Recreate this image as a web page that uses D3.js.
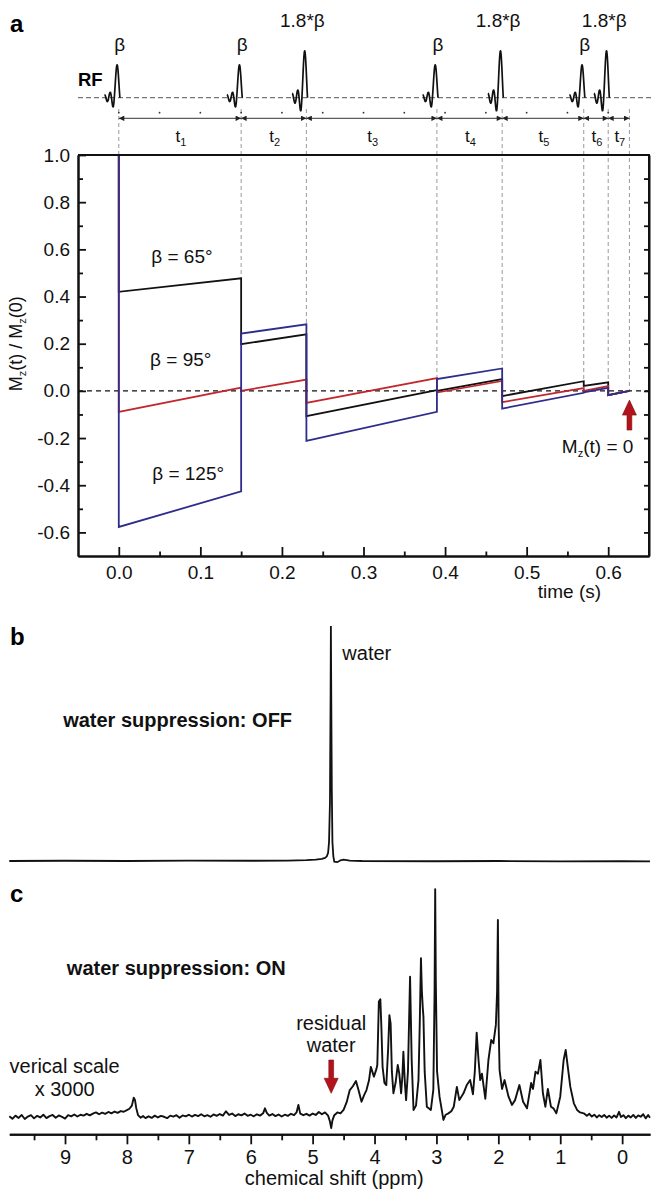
<!DOCTYPE html>
<html>
<head>
<meta charset="utf-8">
<script src="https://cdn.jsdelivr.net/npm/d3@7"></script>
<style>
  body { margin: 0; background: #fff; }
  svg { display: block; font-family: "Liberation Sans", Arial, sans-serif; }
</style>
</head>
<body>
<svg id="chart"></svg>
<script>
"use strict";

// ---- panel a: pulse sequence ----
const pulseTimes = [0, 0.15, 0.23, 0.39, 0.47, 0.57, 0.6];
const pulseLabels = ["β", "β", "1.8*β", "β", "1.8*β", "β", "1.8*β"];
const endTime = 0.626;
const delayLabels = ["1", "2", "3", "4", "5", "6", "7"];
const dotTimes = [0, 0.05, 0.1, 0.15, 0.2, 0.25, 0.3, 0.35, 0.4, 0.45, 0.5, 0.55, 0.6];

// Mz(t)/Mz(0) just before each pulse (last = end value) and just after it
const before65 = [1.0, 0.477, 0.24, 0.003, 0.05, 0.041, 0.036, 0.0];
const after65 = [0.42, 0.198, -0.107, 0.0, -0.022, 0.021, -0.018];
const before95 = [1.0, 0.014, 0.048, 0.054, 0.042, 0.012, 0.02, 0.0];
const after95 = [-0.089, 0.0, -0.051, -0.007, -0.048, 0.0, -0.018];
const before125 = [1.0, -0.426, 0.282, -0.089, 0.095, -0.008, 0.013, 0.0];
const after125 = [-0.577, 0.243, -0.212, 0.05, -0.075, -0.006, -0.018];

const timeTicks = [0, 0.1, 0.2, 0.3, 0.4, 0.5, 0.6];
const timeMinor = [0.05, 0.15, 0.25, 0.35, 0.45, 0.55];
const mzTicks = [-0.6, -0.4, -0.2, 0, 0.2, 0.4, 0.6, 0.8, 1.0];
const mzMinor = [-0.5, -0.3, -0.1, 0.1, 0.3, 0.5, 0.7, 0.9];
const mzRight = [-0.6, -0.5, -0.4, -0.3, -0.2, -0.1, 0, 0.1, 0.2, 0.3, 0.4, 0.5, 0.6, 0.7, 0.8, 0.9];

// ---- panels b and c: spectra [ppm, intensity] ----
const spectrumOff = [
  [9.9, 0.0], [9.0, 0.1], [8.0, 0.0], [7.0, 0.2], [6.0, 0.1], [5.4, 0.2], [5.1, 0.4],
  [4.95, 0.6], [4.85, 0.9], [4.8, 1.3], [4.77, 2.0], [4.75, 3.5], [4.735, 8], [4.72, 25],
  [4.71, 70], [4.705, 100], [4.7, 75], [4.69, 30], [4.68, 8], [4.665, 2], [4.65, -0.3],
  [4.6, -0.5], [4.55, 0.3], [4.5, 0.6], [4.4, 0.2], [4.2, 0.0], [3.0, -0.1], [2.0, 0.0],
  [1.0, -0.2], [0, -0.1], [-0.45, -0.2]
];

const spectrumOn = [
  [9.9, 0.3], [9.85, -0.8], [9.8, 0.6], [9.75, -0.4], [9.7, 0.9], [9.65, -0.9], [9.6, 0.2],
  [9.55, 0.8], [9.5, -0.6], [9.45, 0.5], [9.4, -0.2], [9.35, 1.0], [9.3, -0.5], [9.25, 0.4],
  [9.2, 0.9], [9.15, -0.3], [9.1, 0.7], [9.05, 0.1], [9.0, -0.7], [8.95, 0.8], [8.9, 0.3],
  [8.85, 1.1], [8.8, 0.2], [8.75, 1.0], [8.7, 0.6], [8.65, 1.4], [8.6, 0.7], [8.55, 1.5],
  [8.5, 2.0], [8.45, 1.2], [8.4, 1.9], [8.35, 1.4], [8.3, 2.2], [8.25, 1.6], [8.2, 2.4],
  [8.15, 1.8], [8.1, 2.6], [8.05, 2.3], [8.0, 3.0], [7.96, 3.6], [7.92, 5.0], [7.89, 8.5],
  [7.87, 7.5], [7.85, 4.0], [7.82, 0.8], [7.78, -0.3], [7.74, 0.4], [7.7, -0.5], [7.65, 0.3],
  [7.6, -0.4], [7.55, 0.6], [7.5, -0.2], [7.45, 0.5], [7.4, 0.1], [7.35, -0.5], [7.3, 0.6],
  [7.25, 0.2], [7.2, 0.8], [7.15, -0.3], [7.1, 0.7], [7.05, 0.3], [7.0, 1.0], [6.95, 0.2],
  [6.9, 0.9], [6.85, 0.4], [6.8, 1.2], [6.75, 0.3], [6.7, 0.8], [6.65, 0.1], [6.6, 1.1],
  [6.55, 0.5], [6.5, 1.3], [6.45, 0.6], [6.4, 2.5], [6.35, 0.9], [6.3, 1.5], [6.25, 0.4],
  [6.2, 1.2], [6.15, 0.7], [6.1, 1.5], [6.05, 0.5], [6.0, 1.0], [5.95, 0.3], [5.9, 1.2],
  [5.85, 0.6], [5.8, 1.6], [5.77, 3.8], [5.74, 1.8], [5.7, 0.6], [5.65, 1.3], [5.6, 0.4],
  [5.55, 1.1], [5.5, 0.2], [5.45, 1.0], [5.4, 0.5], [5.35, 1.4], [5.3, 0.8], [5.26, 2.0],
  [5.23, 5.3], [5.2, 1.5], [5.15, 0.8], [5.1, 1.4], [5.05, 0.6], [5.0, 1.5], [4.95, 0.9],
  [4.9, 2.2], [4.85, 1.2], [4.8, 2.0], [4.75, 0.6], [4.72, -2.0], [4.7, -4.9], [4.68, -1.5],
  [4.65, 0.8], [4.6, 2.0], [4.55, 1.6], [4.5, 3.1], [4.45, 6.5], [4.4, 11.8], [4.35, 13.5],
  [4.3, 15.8], [4.26, 12.0], [4.21, 6.7], [4.17, 9.5], [4.13, 11.8], [4.09, 16.0], [4.06, 22.0],
  [4.01, 17.7], [3.97, 21.0], [3.955, 22.8], [3.93, 50.6], [3.906, 51.6], [3.89, 40.0],
  [3.87, 22.0], [3.84, 15.0], [3.81, 14.0], [3.78, 30.0], [3.76, 44.7], [3.74, 41.0],
  [3.72, 20.0], [3.695, 10.4], [3.66, 15.0], [3.625, 22.8], [3.6, 19.0], [3.57, 10.4],
  [3.55, 18.0], [3.534, 28.6], [3.51, 15.0], [3.49, 7.4], [3.46, 20.0], [3.426, 61.5],
  [3.4, 25.0], [3.37, 3.1], [3.33, 5.0], [3.29, 16.2], [3.27, 40.0], [3.25, 69.6],
  [3.235, 55.0], [3.22, 47.7], [3.21, 44.0], [3.19, 20.0], [3.155, 4.5], [3.09, 3.1],
  [3.05, 12.0], [3.03, 55.0], [3.02, 99.9], [3.01, 60.0], [2.99, 20.0], [2.95, 8.9],
  [2.887, -1.3], [2.85, 1.0], [2.807, 1.6], [2.76, 2.5], [2.72, 4.5], [2.67, 13.2],
  [2.63, 7.4], [2.563, 10.4], [2.51, 14.0], [2.455, 16.2], [2.41, 10.0], [2.38, 20.0],
  [2.35, 37.0], [2.32, 25.0], [2.293, 16.2], [2.265, 19.0], [2.21, 8.0], [2.16, 25.0],
  [2.115, 33.8], [2.08, 32.3], [2.04, 40.4], [2.02, 55.0], [2.007, 86.4], [1.995, 40.0],
  [1.98, 20.6], [1.94, 12.3], [1.9, 16.2], [1.835, 8.9], [1.78, 5.3], [1.73, 7.4],
  [1.66, 14.0], [1.6, 6.7], [1.537, 3.8], [1.47, 14.9], [1.44, 12.3], [1.4, 19.9],
  [1.36, 19.0], [1.32, 25.0], [1.28, 10.4], [1.24, 4.5], [1.2, 12.3], [1.15, 4.5],
  [1.11, 3.8], [1.063, 1.6], [1.0, 8.9], [0.945, 25.0], [0.912, 29.4], [0.875, 21.3],
  [0.837, 13.2], [0.78, 6.0], [0.728, 3.1], [0.68, 2.0], [0.62, 1.6], [0.57, 0.5],
  [0.53, 1.4], [0.49, 0.2], [0.45, 1.0], [0.41, -0.2], [0.37, 0.8], [0.33, 0.0], [0.29, 0.9],
  [0.25, -0.3], [0.21, 0.6], [0.17, -0.4], [0.13, 0.7], [0.09, -0.2], [0.05, 2.3], [0.02, 0.0],
  [-0.02, 0.8], [-0.06, -0.5], [-0.1, 0.6], [-0.14, -0.2], [-0.18, 0.9], [-0.22, -0.4],
  [-0.26, 0.7], [-0.3, 0.1], [-0.34, 1.2], [-0.38, -0.6], [-0.42, 0.9], [-0.45, -0.3]
];

const ppmTicks = [9, 8, 7, 6, 5, 4, 3, 2, 1, 0];
const ppmMinor = [9.5, 8.5, 7.5, 6.5, 5.5, 4.5, 3.5, 2.5, 1.5, 0.5];

// ---- layout ----
const width = 652;
const height = 1190;
const font = 19;
const ink = "#111";
const colors = ["#111", "#c1272d", "#2e2d8c"];
const arrowRed = "#b3141c";

const svg = d3.select("#chart").attr("width", width).attr("height", height);

const xA = d3.scaleLinear().domain([-0.05, 0.65]).range([78, 649]);
const yA = d3.scaleLinear().domain([-0.7, 1.0]).range([556, 155]);
const xC = d3.scaleLinear().domain([9.9, -0.45]).range([9.3, 650]);
const yB = d3.scaleLinear().domain([0, 100]).range([861, 626]);
const yC = d3.scaleLinear().domain([0, 100]).range([1117, 889]);

const rfY = 97.7;
const arrowRowY = 118.3;

const styleAxis = (g, size) => {
  g.attr("font-size", size).attr("font-family", null);
  g.selectAll(".domain").attr("stroke", ink).attr("stroke-width", 2);
  g.selectAll(".tick line").attr("stroke", ink).attr("stroke-width", 1.8);
  g.selectAll(".tick text").attr("fill", ink);
};

// panel letters
svg.append("text").attr("x", 10).attr("y", 32).attr("font-size", 24).attr("font-weight", "bold").text("a");
svg.append("text").attr("x", 10).attr("y", 645).attr("font-size", 24).attr("font-weight", "bold").text("b");
svg.append("text").attr("x", 10).attr("y", 902).attr("font-size", 24).attr("font-weight", "bold").text("c");

// ---- RF row ----
svg.append("line")
  .attr("x1", xA(-0.05)).attr("x2", width).attr("y1", rfY).attr("y2", rfY)
  .attr("stroke", "#777").attr("stroke-width", 1.2).attr("stroke-dasharray", "5,3");

svg.append("text").attr("x", 78).attr("y", 86).attr("font-size", 18.5).attr("font-weight", "bold").text("RF");

// timing guides: dashed from RF row down to the highest curve point at that time
const allTimes = pulseTimes.concat([endTime]);
const series = [
  { before: before65, after: after65, color: colors[0] },
  { before: before95, after: after95, color: colors[1] },
  { before: before125, after: after125, color: colors[2] }
];
const topValue = (i) => d3.max(series, (s) => Math.max(s.before[i], i < s.after.length ? s.after[i] : -1));

svg.append("g").selectAll("line").data(allTimes).enter().append("line")
  .attr("x1", (d) => xA(d)).attr("x2", (d) => xA(d))
  .attr("y1", 109).attr("y2", (d, i) => yA(topValue(i)))
  .attr("stroke", "#9a9a9a").attr("stroke-width", 1).attr("stroke-dasharray", "4,3");

// rf pulses (truncated sinc glyph)
const sincU = d3.range(-4.5, 1.0001, 0.1);
const sinc = (u) => (Math.abs(u) < 1e-6 ? 1 : Math.sin(Math.PI * u) / (Math.PI * u));
const pulseAmp = { "β": 33, "1.8*β": 47 };
const pulseLine = d3.line().curve(d3.curveBasis);

svg.append("g").selectAll("path").data(pulseTimes).enter().append("path")
  .attr("d", (t, i) => {
    const xp = xA(t) - 1.7;
    const pts = sincU.map((u) => [xp + u * 2.8, rfY - pulseAmp[pulseLabels[i]] * sinc(u) * (u < -1 ? 1.3 : 1)]);
    return pulseLine(pts);
  })
  .attr("fill", "none").attr("stroke", ink).attr("stroke-width", 1.7);

svg.append("g").selectAll("text").data(pulseTimes).enter().append("text")
  .attr("x", (t, i) => xA(t) + (pulseLabels[i] === "β" ? 1 : -4))
  .attr("y", (t, i) => (pulseLabels[i] === "β" ? 51 : 27))
  .attr("text-anchor", "middle").attr("font-size", font).attr("fill", ink)
  .text((t, i) => pulseLabels[i]);

// small dots of the time grid
svg.append("g").selectAll("circle").data(dotTimes).enter().append("circle")
  .attr("cx", (d) => xA(d)).attr("cy", 112.7).attr("r", 0.9).attr("fill", "#333");

// delay arrows
const defs = svg.append("defs");
defs.append("marker").attr("id", "head")
  .attr("viewBox", "0 0 6 6").attr("refX", 6).attr("refY", 3)
  .attr("markerWidth", 6).attr("markerHeight", 5.5)
  .attr("markerUnits", "userSpaceOnUse").attr("orient", "auto-start-reverse")
  .append("path").attr("d", "M0,0L6,3L0,6Z").attr("fill", "#222");

const intervals = delayLabels.map((lab, i) => [allTimes[i], allTimes[i + 1], lab]);

svg.append("g").selectAll("line").data(intervals).enter().append("line")
  .attr("x1", (d) => xA(d[0])).attr("x2", (d) => xA(d[1]))
  .attr("y1", arrowRowY).attr("y2", arrowRowY)
  .attr("stroke", "#333").attr("stroke-width", 1)
  .attr("marker-start", "url(#head)").attr("marker-end", "url(#head)");

const tLabels = svg.append("g").selectAll("text").data(intervals).enter().append("text")
  .attr("x", (d) => xA((d[0] + d[1]) / 2) + 1)
  .attr("y", 141.7).attr("text-anchor", "middle").attr("font-size", 17).attr("fill", ink);
tLabels.append("tspan").text("t");
tLabels.append("tspan").attr("font-size", 11).attr("dy", 4).text((d) => d[2]);

// ---- panel a plot ----
const gA = svg.append("g");

gA.append("line")
  .attr("x1", xA(-0.05)).attr("x2", xA(0.65)).attr("y1", yA(0)).attr("y2", yA(0))
  .attr("stroke", ink).attr("stroke-width", 1.2).attr("stroke-dasharray", "5,4");

const mzLine = d3.line().x((d) => xA(d[0])).y((d) => yA(d[1]));

series.forEach((s) => {
  const pts = [[allTimes[0], s.before[0]]];
  s.after.forEach((v, i) => {
    pts.push([allTimes[i], v]);
    pts.push([allTimes[i + 1], s.before[i + 1]]);
  });
  gA.append("path").datum(pts).attr("d", mzLine)
    .attr("fill", "none").attr("stroke", s.color).attr("stroke-width", 1.8)
    .attr("stroke-linejoin", "miter");
});

// frame
gA.append("path")
  .attr("d", `M${xA(-0.05)},${yA(1.0)}H${xA(0.65)}V${yA(-0.7)}`)
  .attr("fill", "none").attr("stroke", ink).attr("stroke-width", 2);

gA.append("g").attr("transform", `translate(0,${yA(-0.7)})`)
  .call(d3.axisBottom(xA).tickValues(timeTicks).tickSize(-9).tickSizeOuter(0).tickPadding(10)
    .tickFormat((d) => d.toFixed(1)))
  .call((g) => styleAxis(g, font));
gA.append("g").attr("transform", `translate(0,${yA(-0.7)})`)
  .call(d3.axisBottom(xA).tickValues(timeMinor).tickSize(-4.5).tickSizeOuter(0).tickFormat(""))
  .call((g) => styleAxis(g, font));

gA.append("g").attr("transform", `translate(${xA(-0.05)},0)`)
  .call(d3.axisLeft(yA).tickValues(mzTicks).tickSize(-8).tickSizeOuter(0).tickPadding(8)
    .tickFormat((d) => d.toFixed(1)))
  .call((g) => styleAxis(g, font));
gA.append("g").attr("transform", `translate(${xA(-0.05)},0)`)
  .call(d3.axisLeft(yA).tickValues(mzMinor).tickSize(-5).tickSizeOuter(0).tickFormat(""))
  .call((g) => styleAxis(g, font));
gA.append("g").attr("transform", `translate(${xA(0.65)},0)`)
  .call(d3.axisRight(yA).tickValues(mzRight).tickSize(-5).tickSizeOuter(0).tickFormat(""))
  .call((g) => styleAxis(g, font));

gA.append("text").attr("x", xA(0.5525)).attr("y", 598)
  .attr("text-anchor", "middle").attr("font-size", font).attr("fill", ink).text("time (s)");

const yLab = gA.append("text")
  .attr("transform", `translate(22,${yA(0.2)}) rotate(-90)`)
  .attr("text-anchor", "middle").attr("font-size", 18).attr("fill", ink);
yLab.append("tspan").text("M");
yLab.append("tspan").attr("font-size", 11).attr("dy", 4).text("z");
yLab.append("tspan").attr("dy", -4).text("(t) / M");
yLab.append("tspan").attr("font-size", 11).attr("dy", 4).text("z");
yLab.append("tspan").attr("dy", -4).text("(0)");

const betaNotes = [
  [0.0774, 0.542, "β = 65°"],
  [0.076, 0.106, "β = 95°"],
  [0.085, -0.378, "β = 125°"]
];
gA.append("g").selectAll("text").data(betaNotes).enter().append("text")
  .attr("x", (d) => xA(d[0])).attr("y", (d) => yA(d[1]))
  .attr("text-anchor", "middle").attr("font-size", font).attr("fill", ink)
  .text((d) => d[2]);

const zeroNote = gA.append("text").attr("x", xA(0.587)).attr("y", yA(-0.263))
  .attr("text-anchor", "middle").attr("font-size", font).attr("fill", ink);
zeroNote.append("tspan").text("M");
zeroNote.append("tspan").attr("font-size", 11).attr("dy", 4).text("z");
zeroNote.append("tspan").attr("dy", -4).text("(t) = 0");

// block arrow helper
const blockArrow = (x, yTip, yTail) => {
  const dir = yTail > yTip ? 1 : -1;
  const head = 15 * dir;
  const hw = 7;
  const sw = 2.4;
  return `M${x},${yTip}L${x + hw},${yTip + head}L${x + sw},${yTip + head}L${x + sw},${yTail}` +
    `L${x - sw},${yTail}L${x - sw},${yTip + head}L${x - hw},${yTip + head}Z`;
};

gA.append("path")
  .attr("d", blockArrow(xA(endTime), yA(-0.039), yA(-0.166)))
  .attr("fill", arrowRed).attr("stroke", "#7a0a0f").attr("stroke-width", 0.6);

// ---- panel b ----
const specLineB = d3.line().x((d) => xC(d[0])).y((d) => yB(d[1]));
svg.append("path").datum(spectrumOff).attr("d", specLineB)
  .attr("fill", "none").attr("stroke", ink).attr("stroke-width", 1.8);

svg.append("text").attr("x", xC(9.03)).attr("y", yB(57))
  .attr("font-size", 20).attr("font-weight", "bold").attr("fill", ink).text("water suppression: OFF");
svg.append("text").attr("x", xC(4.52)).attr("y", yB(85.5))
  .attr("font-size", 20).attr("fill", ink).text("water");

// ---- panel c ----
const specLineC = d3.line().x((d) => xC(d[0])).y((d) => yC(d[1]));
svg.append("path").datum(spectrumOn).attr("d", specLineC)
  .attr("fill", "none").attr("stroke", ink).attr("stroke-width", 1.9).attr("stroke-linejoin", "round");

const axisCY = 1134.3;
svg.append("g").attr("transform", `translate(0,${axisCY})`)
  .call(d3.axisBottom(xC).tickValues(ppmTicks).tickSize(10).tickSizeOuter(0).tickPadding(5.5))
  .call((g) => styleAxis(g, 20));
svg.append("g").attr("transform", `translate(0,${axisCY})`)
  .call(d3.axisBottom(xC).tickValues(ppmMinor).tickSize(6).tickSizeOuter(0).tickFormat(""))
  .call((g) => styleAxis(g, 20));

svg.append("text").attr("x", xC(4.65)).attr("y", 1185)
  .attr("text-anchor", "middle").attr("font-size", 20).attr("fill", ink).text("chemical shift (ppm)");

svg.append("text").attr("x", xC(8.97)).attr("y", yC(62.3))
  .attr("font-size", 20).attr("font-weight", "bold").attr("fill", ink).text("water suppression: ON");

svg.append("text").attr("x", xC(9.895)).attr("y", yC(19.4))
  .attr("font-size", 20).attr("fill", ink).text("verical scale");
svg.append("text").attr("x", xC(9.49)).attr("y", yC(9.2))
  .attr("font-size", 20).attr("fill", ink).text("x 3000");

svg.append("text").attr("x", xC(4.7)).attr("y", yC(38.2))
  .attr("text-anchor", "middle").attr("font-size", 20).attr("fill", ink).text("residual");
svg.append("text").attr("x", xC(4.7)).attr("y", yC(28.5))
  .attr("text-anchor", "middle").attr("font-size", 20).attr("fill", ink).text("water");

svg.append("path")
  .attr("d", blockArrow(xC(4.7), yC(10.4), yC(25)))
  .attr("fill", arrowRed).attr("stroke", "#7a0a0f").attr("stroke-width", 0.6);
</script>
</body>
</html>
